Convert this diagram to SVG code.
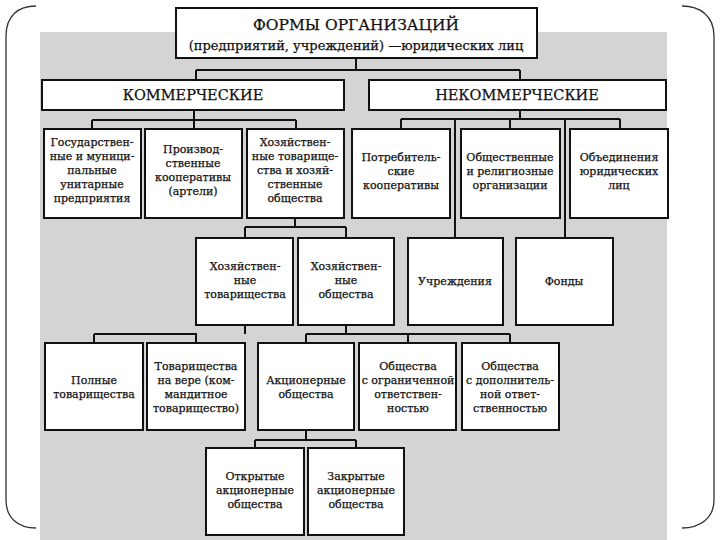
<svg xmlns="http://www.w3.org/2000/svg" width="720" height="540" viewBox="0 0 720 540">
<style>
.box{fill:#fff;stroke:#111;stroke-width:2}
.conn{fill:none;stroke:#111;stroke-width:2}
.br{fill:none;stroke:#333;stroke-width:1.3}
.txt text{fill:#111;text-anchor:middle;stroke:#111;stroke-width:0.25}
.t{font-size:11px}
.h{font-size:14.5px}
</style>
<rect x="0" y="0" width="720" height="540" fill="#fff"/>
<rect x="40" y="32" width="627" height="508" fill="#d4d4d4"/>
<path class="br" d="M36,6 C18,6 6,16 6,36 V500 C6,518 18,528 36,528"/>
<path class="br" d="M682,6 C700,6 714,16 714,36 V500 C714,518 700,528 682,528"/>
<g id="connectors">
<path class="conn" d="M356,58 V70 M196,70 H520 M196,70 V80 M520,70 V80"/>
<path class="conn" d="M194,110 V120 M92,120 H296 M92,120 V128 M194,120 V128 M296,120 V128"/>
<path class="conn" d="M520,110 V119 M401,119 H620 M401,119 V129 M510,119 V129 M620,119 V129 M455,119 V238 M565,119 V238"/>
<path class="conn" d="M295,218 V227 M245,227 H346 M245,227 V238 M346,227 V238"/>
<path class="conn" d="M245,325 V334 M94,334 H196 V343 M94,334 V343"/>
<path class="conn" d="M346,325 V334 M306,334 H510 M306,334 V343 M408,334 V343 M510,334 V343"/>
<path class="conn" d="M306,430 V440 M255,440 H356 M255,440 V448 M356,440 V448"/>
</g>
<g class="txt" font-family="'DejaVu Serif', 'Liberation Serif', serif">
<g id="title">
<rect class="box" x="176" y="8" width="361" height="50"/>
<text x="356" y="30" font-size="15.5">ФОРМЫ ОРГАНИЗАЦИЙ</text>
<text x="356" y="50" font-size="13">(предприятий, учреждений) —юридических лиц</text>
</g>
<g id="commercial">
<rect class="box" x="42" y="80" width="302" height="30"/>
<text class="h" x="193" y="100">КОММЕРЧЕСКИЕ</text>
</g>
<g id="noncommercial">
<rect class="box" x="369" y="80" width="297" height="30"/>
<text class="h" x="517" y="100">НЕКОММЕРЧЕСКИЕ</text>
</g>
<g id="gos">
<rect class="box" x="44" y="129" width="97" height="89"/>
<text class="t" x="92" y="146">Государствен-</text>
<text class="t" x="92" y="160">ные и муници-</text>
<text class="t" x="92" y="174">пальные</text>
<text class="t" x="92" y="188">унитарные</text>
<text class="t" x="92" y="202">предприятия</text>
</g>
<g id="proizv">
<rect class="box" x="145" y="129" width="97" height="89"/>
<text class="t" x="193" y="153">Производ-</text>
<text class="t" x="193" y="167">ственные</text>
<text class="t" x="193" y="181">кооперативы</text>
<text class="t" x="193" y="195">(артели)</text>
</g>
<g id="hoz">
<rect class="box" x="247" y="129" width="97" height="89"/>
<text class="t" x="295" y="146">Хозяйствен-</text>
<text class="t" x="295" y="160">ные товарище-</text>
<text class="t" x="295" y="174">ства и хозяй-</text>
<text class="t" x="295" y="188">ственные</text>
<text class="t" x="295" y="202">общества</text>
</g>
<g id="potreb">
<rect class="box" x="352" y="129" width="98" height="89"/>
<text class="t" x="401" y="161">Потребитель-</text>
<text class="t" x="401" y="175">ские</text>
<text class="t" x="401" y="189">кооперативы</text>
</g>
<g id="obsh">
<rect class="box" x="461" y="129" width="99" height="89"/>
<text class="t" x="510" y="161">Общественные</text>
<text class="t" x="510" y="175">и религиозные</text>
<text class="t" x="510" y="189">организации</text>
</g>
<g id="obed">
<rect class="box" x="570" y="129" width="98" height="89"/>
<text class="t" x="619" y="161">Объединения</text>
<text class="t" x="619" y="175">юридических</text>
<text class="t" x="619" y="189">лиц</text>
</g>
<g id="hoztov">
<rect class="box" x="196" y="238" width="97" height="87"/>
<text class="t" x="245" y="270">Хозяйствен-</text>
<text class="t" x="245" y="284">ные</text>
<text class="t" x="245" y="298">товарищества</text>
</g>
<g id="hozobsh">
<rect class="box" x="298" y="238" width="96" height="87"/>
<text class="t" x="346" y="270">Хозяйствен-</text>
<text class="t" x="346" y="284">ные</text>
<text class="t" x="346" y="298">общества</text>
</g>
<g id="uchr">
<rect class="box" x="408" y="238" width="95" height="87"/>
<text class="t" x="455" y="285">Учреждения</text>
</g>
<g id="fond">
<rect class="box" x="516" y="238" width="97" height="87"/>
<text class="t" x="564" y="285">Фонды</text>
</g>
<g id="poln">
<rect class="box" x="45" y="343" width="98" height="87"/>
<text class="t" x="94" y="384">Полные</text>
<text class="t" x="94" y="398">товарищества</text>
</g>
<g id="vera">
<rect class="box" x="147" y="343" width="98" height="87"/>
<text class="t" x="196" y="370">Товарищества</text>
<text class="t" x="196" y="384">на вере (ком-</text>
<text class="t" x="196" y="398">мандитное</text>
<text class="t" x="196" y="412">товарищество)</text>
</g>
<g id="akc">
<rect class="box" x="258" y="343" width="96" height="87"/>
<text class="t" x="306" y="384">Акционерные</text>
<text class="t" x="306" y="398">общества</text>
</g>
<g id="ooo">
<rect class="box" x="359" y="343" width="97" height="87"/>
<text class="t" x="408" y="370">Общества</text>
<text class="t" x="408" y="384">с ограниченной</text>
<text class="t" x="408" y="398">ответствен-</text>
<text class="t" x="408" y="412">ностью</text>
</g>
<g id="odo">
<rect class="box" x="462" y="343" width="97" height="87"/>
<text class="t" x="510" y="370">Общества</text>
<text class="t" x="510" y="384">с дополнитель-</text>
<text class="t" x="510" y="398">ной ответ-</text>
<text class="t" x="510" y="412">ственностью</text>
</g>
<g id="oao">
<rect class="box" x="206" y="448" width="98" height="87"/>
<text class="t" x="255" y="480">Открытые</text>
<text class="t" x="255" y="494">акционерные</text>
<text class="t" x="255" y="508">общества</text>
</g>
<g id="zao">
<rect class="box" x="308" y="448" width="96" height="87"/>
<text class="t" x="356" y="480">Закрытые</text>
<text class="t" x="356" y="494">акционерные</text>
<text class="t" x="356" y="508">общества</text>
</g>
</g>
</svg>
